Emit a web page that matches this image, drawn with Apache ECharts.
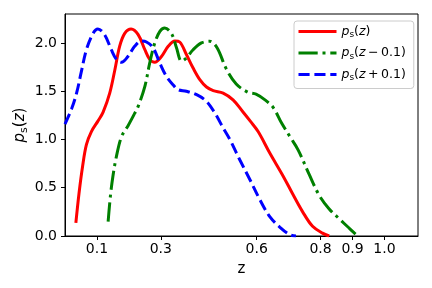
<!DOCTYPE html>
<html>
<head>
<meta charset="utf-8">
<script src="https://cdn.jsdelivr.net/npm/echarts@6/dist/echarts.min.js"></script>
<style>html,body{margin:0;padding:0;background:#fff;}#c{width:432px;height:288px;}</style>
</head>
<body>
<div id="c"></div>
<script>
// ---- data ----
var xTicks = [0.1, 0.3, 0.6, 0.8, 0.9, 1.0];
var yTicks = [0.0, 0.5, 1.0, 1.5, 2.0];

var redZ = [0.034, 0.044, 0.055, 0.067, 0.083, 0.103, 0.119, 0.14, 0.156, 0.171, 0.187, 0.207, 0.229, 0.25, 0.265, 0.281, 0.302, 0.323, 0.344, 0.359, 0.38, 0.401, 0.422, 0.443, 0.464, 0.495, 0.526, 0.556, 0.58, 0.605, 0.641, 0.683, 0.712, 0.744, 0.775, 0.806, 0.827];
var redP = [0.135, 0.445, 0.72, 0.946, 1.084, 1.19, 1.28, 1.48, 1.72, 1.965, 2.10, 2.145, 2.086, 1.93, 1.83, 1.80, 1.86, 1.965, 2.02, 2.01, 1.88, 1.74, 1.62, 1.544, 1.506, 1.48, 1.41, 1.29, 1.19, 1.08, 0.86, 0.62, 0.44, 0.25, 0.10, 0.03, 0.0];

var greenZ = [0.135, 0.142, 0.15, 0.161, 0.177, 0.197, 0.218, 0.229, 0.25, 0.265, 0.281, 0.297, 0.312, 0.333, 0.349, 0.365, 0.38, 0.401, 0.427, 0.453, 0.476, 0.505, 0.536, 0.572, 0.598, 0.626, 0.652, 0.678, 0.704, 0.73, 0.764, 0.796, 0.827, 0.858, 0.89, 0.916];
var greenP = [0.15, 0.41, 0.62, 0.825, 1.03, 1.14, 1.27, 1.343, 1.55, 1.79, 2.0, 2.12, 2.155, 2.10, 1.95, 1.81, 1.845, 1.93, 2.0, 2.017, 1.95, 1.73, 1.575, 1.49, 1.47, 1.41, 1.33, 1.17, 1.03, 0.89, 0.64, 0.42, 0.28, 0.18, 0.08, 0.0];

var blueZ = [0.0, 0.021, 0.037, 0.051, 0.067, 0.088, 0.103, 0.124, 0.145, 0.161, 0.177, 0.197, 0.218, 0.239, 0.255, 0.276, 0.297, 0.318, 0.338, 0.354, 0.38, 0.412, 0.443, 0.469, 0.495, 0.516, 0.547, 0.579, 0.61, 0.641, 0.673, 0.704, 0.723];
var blueP = [1.16, 1.32, 1.49, 1.70, 1.93, 2.10, 2.145, 2.086, 1.93, 1.83, 1.80, 1.86, 1.965, 2.02, 2.01, 1.95, 1.79, 1.65, 1.568, 1.516, 1.50, 1.464, 1.395, 1.275, 1.12, 1.0, 0.79, 0.583, 0.376, 0.20, 0.09, 0.013, 0.0];

var seriesNames = ['ps', 'psm', 'psp'];
var legendRich = {
  ps:  '{i|p}{s|s}{n|(}{i|z}{n|)}',
  psm: '{i|p}{s|s}{n|(}{i|z}{n|\u2009\u2212\u20090.1)}',
  psp: '{i|p}{s|s}{n|(}{i|z}{n|\u2009+\u20090.1)}'
};
var yTitle = '{i|p}{s|s}{n|(}{i|z}{n|)}';

function zip(a, b) { return a.map(function (v, i) { return [v, b[i]]; }); }

var FONT = 'DejaVu Sans';
var chart = echarts.init(document.getElementById('c'), null, {renderer: 'canvas'});

function mkRich(fs, subFs, lh) {
  return {
    i: {fontFamily: FONT, fontStyle: 'italic', fontSize: fs, lineHeight: lh, color: '#000'},
    n: {fontFamily: FONT, fontSize: fs, lineHeight: lh, color: '#000'},
    s: {fontFamily: FONT, fontSize: subFs, lineHeight: subFs, verticalAlign: 'bottom', color: '#000'}
  };
}

var option = {
  animation: false,
  backgroundColor: '#fff',
  grid: {left: 65, right: 14, top: 14, bottom: 52, show: true, borderColor: '#000', borderWidth: 1, backgroundColor: 'transparent'},
  graphic: [{
    type: 'text', x: 20, y: 125, rotation: Math.PI / 2,
    style: {text: yTitle, rich: mkRich(15, 11, 20), align: 'center', verticalAlign: 'middle'}
  }],
  xAxis: {
    type: 'value', min: 0, max: 1.105,
    name: 'z', nameLocation: 'middle', nameGap: 26,
    nameTextStyle: {fontFamily: FONT, fontSize: 15, color: '#000'},
    axisLine: {show: true, onZero: false, lineStyle: {color: '#000', width: 1}},
    axisTick: {show: true, length: 4, inside: false, customValues: xTicks, lineStyle: {color: '#000', width: 1}},
    axisLabel: {customValues: xTicks, fontFamily: FONT, fontSize: 14, color: '#000', margin: 6,
      formatter: function (v) { return v.toFixed(1); }},
    splitLine: {show: false}
  },
  yAxis: {
    type: 'value', min: 0, max: 2.3,
    axisLine: {show: true, onZero: false, lineStyle: {color: '#000', width: 1}},
    axisTick: {show: true, length: 4, inside: false, customValues: yTicks, lineStyle: {color: '#000', width: 1}},
    axisLabel: {customValues: yTicks, fontFamily: FONT, fontSize: 14, color: '#000', margin: 8,
      formatter: function (v) { return v.toFixed(1); }},
    splitLine: {show: false}
  },
  legend: {
    orient: 'vertical', left: 294, top: 21,
    padding: [4, 8, 6, 3], itemGap: 7, itemWidth: 38, itemHeight: 14,
    backgroundColor: 'rgba(255,255,255,0.8)', borderColor: '#cccccc', borderWidth: 1, borderRadius: 3,
    icon: 'inherit',
    itemStyle: {opacity: 0},
    lineStyle: {width: 3},
    data: seriesNames,
    formatter: function (n) { return legendRich[n]; },
    textStyle: {rich: mkRich(12.5, 9, 16)}
  },
  series: [
    {name: 'ps', type: 'line', data: zip(redZ, redP), showSymbol: false, symbol: 'none', smooth: 0.35,
      lineStyle: {color: '#ff0000', width: 3, type: 'solid'}, itemStyle: {color: '#ff0000'}},
    {name: 'psm', type: 'line', data: zip(greenZ, greenP), showSymbol: false, symbol: 'none', smooth: 0.35,
      lineStyle: {color: '#008000', width: 3, type: [19.2, 4.8, 3, 4.8], cap: 'butt'}, itemStyle: {color: '#008000'}},
    {name: 'psp', type: 'line', data: zip(blueZ, blueP), showSymbol: false, symbol: 'none', smooth: 0.35,
      lineStyle: {color: '#0000ff', width: 3, type: [11.1, 4.8], cap: 'butt'}, itemStyle: {color: '#0000ff'}}
  ]
};
chart.setOption(option);
</script>
</body>
</html>
